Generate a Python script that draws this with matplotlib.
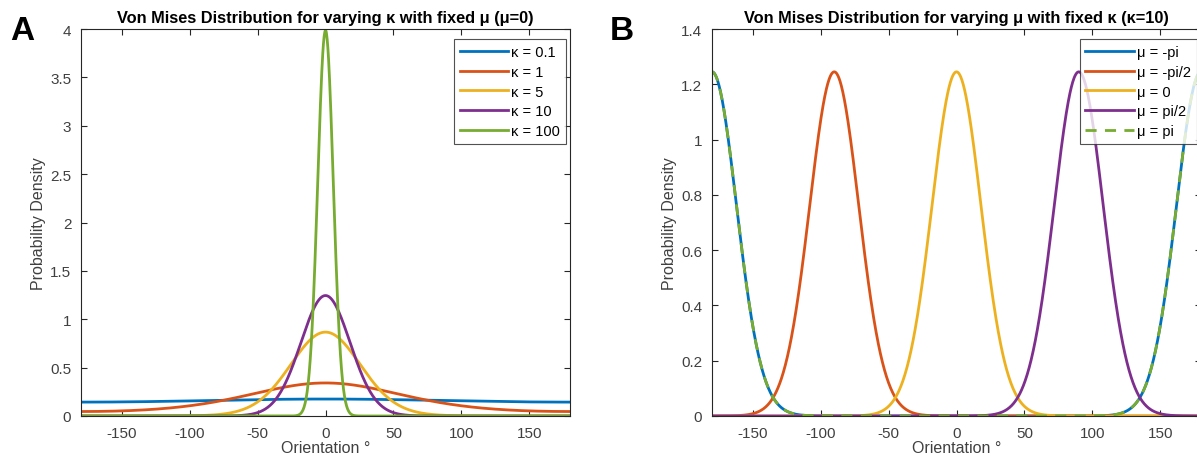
import numpy as np
import matplotlib
matplotlib.use("Agg")
import matplotlib.pyplot as plt
from matplotlib.ticker import FuncFormatter

plt.rcParams['font.family'] = ['Liberation Sans', 'DejaVu Sans']
plt.rcParams['axes.unicode_minus'] = False

# ---- data ----
kappas = [0.1, 1, 5, 10, 100]
kappa_labels = ["κ = 0.1", "κ = 1", "κ = 5", "κ = 10", "κ = 100"]
mu_values = [-np.pi, -np.pi / 2, 0.0, np.pi / 2, np.pi]
mu_labels = ["μ = -pi", "μ = -pi/2", "μ = 0", "μ = pi/2", "μ = pi"]
fixed_mu = 0.0
fixed_kappa = 10
colors = ["#0072BD", "#D95319", "#EDB120", "#7E2F8E", "#77AC30"]
left_yticks = [0, 0.5, 1, 1.5, 2, 2.5, 3, 3.5, 4]
right_yticks = [0, 0.2, 0.4, 0.6, 0.8, 1, 1.2, 1.4]
xticks = [-150, -100, -50, 0, 50, 100, 150]

theta_deg = np.linspace(-180, 180, 1441)
theta = np.deg2rad(theta_deg)


def vonmises(x, mu, k):
    return np.exp(k * np.cos(x - mu)) / (2 * np.pi * np.i0(k))


W, H = 1197, 464
fig = plt.figure(figsize=(W / 100, H / 100), dpi=100)
axc = "#262626"
fmt = FuncFormatter(lambda v, p: "%g" % round(v, 6))


def style(ax, yticks, ylim):
    ax.set_xlim(-180, 180)
    ax.set_ylim(*ylim)
    ax.set_xticks(xticks)
    ax.set_yticks(yticks)
    ax.yaxis.set_major_formatter(fmt)
    ax.tick_params(direction="in", top=True, right=True, length=4,
                   width=0.8, colors=axc, labelsize=11, labelcolor="#404040", pad=7)
    for s in ax.spines.values():
        s.set_color(axc)
        s.set_linewidth(0.8)
    ax.set_xlabel("Orientation °", fontsize=11.5, color="#404040", labelpad=0)
    ax.set_ylabel("Probability Density", fontsize=11.5, color="#404040", labelpad=3)


def make_legend(ax):
    leg = ax.legend(loc="upper right", bbox_to_anchor=(0.992, 0.974),
                    fontsize=10.5, handlelength=3.3, frameon=True,
                    fancybox=False, edgecolor="#262626", borderaxespad=0,
                    labelspacing=0.4, handletextpad=0.25, borderpad=0.4)
    leg.get_frame().set_linewidth(0.8)
    return leg


ax1 = fig.add_axes([81 / W, (H - 417) / H, 489 / W, 387 / H])
for k, lab, c in zip(kappas, kappa_labels, colors):
    ax1.plot(theta_deg, vonmises(theta, fixed_mu, k), color=c, lw=2.0, label=lab)
style(ax1, left_yticks, (0, 4))
ax1.set_title("Von Mises Distribution for varying κ with fixed μ (μ=0)",
              fontsize=11.8, fontweight="bold", color="black", pad=5)
make_legend(ax1)

ax2 = fig.add_axes([712 / W, (H - 417) / H, 489 / W, 387 / H])
for i, (m, lab, c) in enumerate(zip(mu_values, mu_labels, colors)):
    if i == 4:
        ax2.plot(theta_deg, vonmises(theta, m, fixed_kappa), color=c, lw=2.0,
                 dashes=(4, 3), label=lab)
    else:
        ax2.plot(theta_deg, vonmises(theta, m, fixed_kappa), color=c, lw=2.0, label=lab)
style(ax2, right_yticks, (0, 1.4))
ax2.set_title("Von Mises Distribution for varying μ with fixed κ (κ=10)",
              fontsize=11.8, fontweight="bold", color="black", pad=5)
make_legend(ax2)

fig.text(10 / W, 1 - 40 / H, "A", fontsize=24, fontweight="bold", color="black")
fig.text(610 / W, 1 - 40 / H, "B", fontsize=24, fontweight="bold", color="black")

fig.savefig("out.png", dpi=100)
